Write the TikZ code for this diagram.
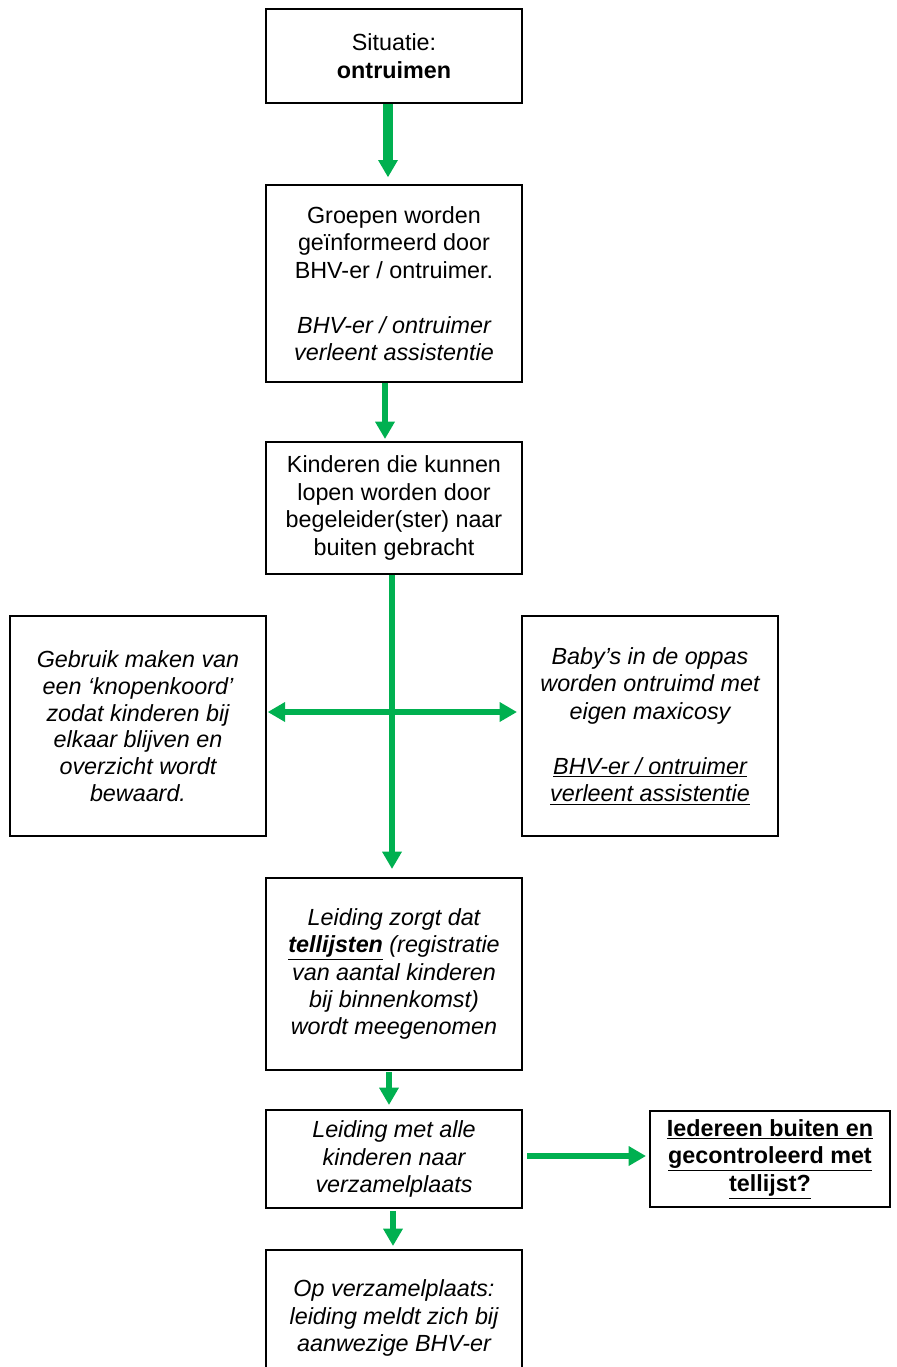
\documentclass[tikz,border=0pt]{standalone}
\usepackage{fontspec}
\setmainfont{Liberation Sans}
\usetikzlibrary{arrows.meta}
\definecolor{arrowgreen}{HTML}{00B050}
\begin{document}
\begin{tikzpicture}[x=0.75pt,y=-0.75pt,
  box/.style={draw, line width=1.5pt, align=center, inner sep=0pt,
    minimum width=192pt, font=\fontsize{17.5}{20.6}\selectfont},
  flow/.style={draw=arrowgreen, line width=5pt},
  tip/.style={-{Triangle[width=14pt,length=13pt,fill=arrowgreen,color=arrowgreen]}},
  twotip/.style={{Triangle[width=14pt,length=13pt,fill=arrowgreen,color=arrowgreen]}-{Triangle[width=14pt,length=13pt,fill=arrowgreen,color=arrowgreen]}},
]
\useasboundingbox (0,0) rectangle (896,1367);

\node[box, minimum height=70.5pt] (a) at (394,56) {Situatie:\\\textbf{ontruimen}};
\node[box, minimum height=147.75pt] (b) at (394,283.5) {Groepen worden\\geïnformeerd door\\BHV-er / ontruimer.\\[20.6pt]\itshape BHV-er / ontruimer\\\itshape verleent assistentie};
\node[box, minimum height=99pt] (c) at (394,508) {Kinderen die kunnen\\lopen worden door\\begeleider(ster) naar\\buiten gebracht};
\node[box, minimum height=165pt, font=\fontsize{17.5}{20}\selectfont\itshape] (l) at (138,726) {Gebruik maken van\\een ‘knopenkoord’\\zodat kinderen bij\\elkaar blijven en\\overzicht wordt\\bewaard.};
\node[box, minimum height=165pt, font=\fontsize{17.5}{20.6}\selectfont\itshape] (r) at (650,726) {Baby’s in de oppas\\worden ontruimd met\\eigen maxicosy\\[20.6pt]\underline{BHV-er / ontruimer}\\\underline{verleent assistentie}};
\node[box, minimum height=144pt, font=\fontsize{17.5}{20.6}\selectfont\itshape] (d) at (394,974) {Leiding zorgt dat\\\textbf{\underline{tellijsten}} (registratie\\van aantal kinderen\\bij binnenkomst)\\wordt meegenomen};
\node[box, minimum height=73.5pt, font=\fontsize{17.5}{20.6}\selectfont\itshape] (e) at (394,1159) {Leiding met alle\\kinderen naar\\verzamelplaats};
\node[box, minimum width=180pt, minimum height=72pt, font=\fontsize{17.5}{20.6}\selectfont\bfseries] (f) at (770,1159) {\underline{Iedereen buiten en}\\\underline{gecontroleerd met}\\\underline{tellijst?}};
\node[box, minimum height=102pt, font=\fontsize{17.5}{20.6}\selectfont\itshape] (g) at (394,1318) {Op verzamelplaats:\\leiding meldt zich bij\\aanwezige BHV-er};

\draw[flow, tip, line width=7pt, shorten >=5pt] ([xshift=-4.5pt]a.south) -- ([xshift=-4.5pt]b.north);
\draw[flow, tip, shorten >=1.5pt] ([xshift=-6.75pt]b.south) -- ([xshift=-6.75pt]c.north);
\draw[flow, tip, shorten >=6pt] ([xshift=-1.5pt]c.south) -- ([xshift=-1.5pt]d.north);
\draw[flow, twotip, shorten <=0.5pt, shorten >=3pt] ([yshift=10.5pt]l.east) -- ([yshift=10.5pt]l.east -| r.west);
\draw[flow, tip, shorten <=1pt, shorten >=3pt] ([xshift=-3.75pt]d.south) -- ([xshift=-3.75pt]e.north);
\draw[flow, tip, shorten <=3pt, shorten >=2.25pt] ([yshift=2.25pt]e.east) -- ([yshift=2.25pt]e.east -| f.west);
\draw[flow, tip, shorten <=1.5pt, shorten >=2.25pt] ([xshift=-0.75pt]e.south) -- ([xshift=-0.75pt]g.north);
\end{tikzpicture}
\end{document}
